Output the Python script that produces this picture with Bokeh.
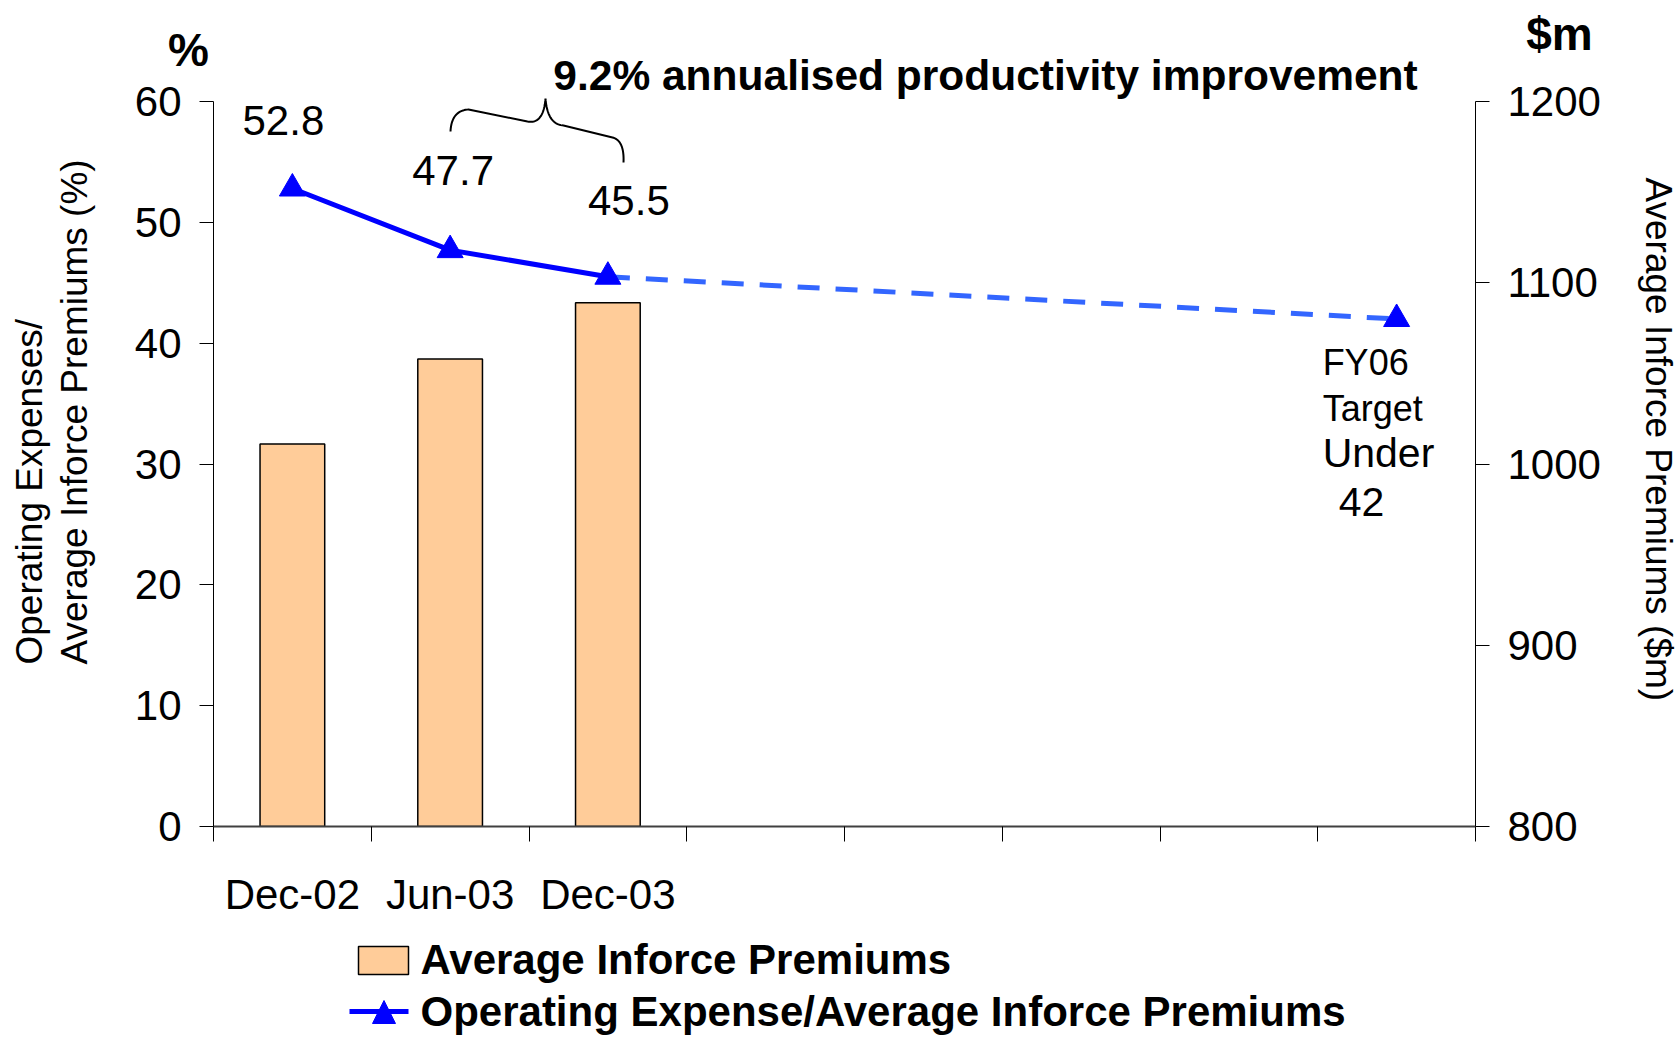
import numpy as np
from bokeh.plotting import figure
from bokeh.models import Range1d, LinearAxis, FixedTicker, Label, ColumnDataSource
from bokeh.core.properties import value
from bokeh.embed import file_html
from bokeh.resources import INLINE

# ---------------- data ----------------
periods = ["Dec-02", "Jun-03", "Dec-03"]
slot_count = 8            # x axis divisions (last one holds the FY06 target)
target_slot = 7
premiums = [1011, 1058, 1089]        # Average Inforce Premiums ($m), right axis
ratio = [52.8, 47.7, 45.5]           # Operating Expense / Avg Inforce Premiums (%)
ratio_labels = ["52.8", "47.7", "45.5"]
target_ratio = 42.0
target_lines = ["FY06", "Target", "Under", "42"]
left_ticks = [0, 10, 20, 30, 40, 50, 60]
right_ticks = [800, 900, 1000, 1100, 1200]
headline = "9.2% annualised productivity improvement"
left_title = ["Operating Expenses/", "Average Inforce Premiums (%)"]
right_title = "Average Inforce Premiums ($m)"
bar_name = "Average Inforce Premiums"
line_name = "Operating Expense/Average Inforce Premiums"

FONT = "Liberation Sans"
BAR_FILL = "#FFCC99"
LINE_BLUE = "#0000FF"
DASH_BLUE = "#3366FF"

# frame geometry (page px) used for annotation placement
W, H = 1680, 1036
FL, FR, FT, FB = 213.0, 1475.0, 101.0, 826.0
XPX = (FR - FL) / slot_count
YPX = (FB - FT) / 60.0


def gx(px):
    return (px - FL) / XPX


def gy(py):
    return (FB - py) / YPX


p = figure(width=W, height=H, output_backend="svg", toolbar_location=None,
           x_range=Range1d(0, slot_count), y_range=Range1d(0, 60),
           min_border_left=int(FL), min_border_right=int(W - FR),
           min_border_top=int(FT), min_border_bottom=int(H - FB))
p.extra_y_ranges = {"prem": Range1d(800, 1200)}
p.xgrid.visible = False
p.ygrid.visible = False
p.outline_line_color = None
p.background_fill_color = "white"
p.border_fill_color = "white"

xs = [i + 0.5 for i in range(len(periods))]
target_x = target_slot + 0.5

# ---- x axis: labels at centres, ticks at slot boundaries
xax = p.xaxis[0]
xax.ticker = FixedTicker(ticks=xs, minor_ticks=list(range(slot_count + 1)))
xax.major_label_overrides = {x: lab for x, lab in zip(xs, periods)}
xax.major_tick_out = 0
xax.major_tick_in = 0
xax.minor_tick_out = 15
xax.minor_tick_in = 0
xax.minor_tick_line_color = "black"
xax.axis_line_color = "#404040"
xax.axis_line_width = 2
xax.major_label_standoff = 29
xax.major_label_text_font = FONT
xax.major_label_text_font_size = "42px"
xax.major_label_text_color = "black"

# ---- left axis
yl = p.yaxis[0]
yl.ticker = FixedTicker(ticks=left_ticks)
yl.major_tick_out = 14
yl.major_tick_in = 0
yl.minor_tick_out = 0
yl.minor_tick_in = 0
yl.axis_line_color = "black"
yl.major_tick_line_color = "black"
yl.major_label_standoff = 18
yl.major_label_text_font = FONT
yl.major_label_text_font_size = "42px"
yl.major_label_text_color = "black"

# ---- right axis
yr = LinearAxis(y_range_name="prem", ticker=FixedTicker(ticks=right_ticks))
yr.major_tick_out = 14
yr.major_tick_in = 0
yr.minor_tick_out = 0
yr.minor_tick_in = 0
yr.axis_line_color = "black"
yr.major_tick_line_color = "black"
yr.major_label_standoff = 18
yr.major_label_text_font = FONT
yr.major_label_text_font_size = "42px"
yr.major_label_text_color = "black"
p.add_layout(yr, "right")

# ---- bars
src = ColumnDataSource(dict(x=xs, top=premiums))
bars = p.vbar(x="x", top="top", bottom=800, width=0.41, y_range_name="prem",
              source=src, fill_color=BAR_FILL, line_color="black", line_width=1.5)

# ---- lines
dashed = p.line([xs[-1], target_x], [ratio[-1], target_ratio], line_color=DASH_BLUE,
                line_width=5, line_dash="22 16")
solid = p.line(xs, ratio, line_color=LINE_BLUE, line_width=5)
markers = p.scatter(xs + [target_x], ratio + [target_ratio], marker="triangle", size=26,
                    fill_color=LINE_BLUE, line_color=LINE_BLUE)

# ---- value labels
lab_dx = [-9, 3, 21]
lab_dy = [68, 80, 76]
for x, yv, t, dx, dy in zip(xs, ratio, ratio_labels, lab_dx, lab_dy):
    p.add_layout(Label(x=x, y=yv, text=t, x_offset=dx, y_offset=dy, text_align="center",
                       text_baseline="middle", text_font=FONT, text_font_size="42px",
                       text_color="black"))

tgt_dx = [-74, -74, -74, -58]
tgt_dy = [-43, -89, -134, -183]
tgt_size = ["36px", "36px", "41px", "41px"]
for t, dx, dy, fs in zip(target_lines, tgt_dx, tgt_dy, tgt_size):
    p.add_layout(Label(x=target_x, y=target_ratio, text=t, x_offset=dx, y_offset=dy,
                       text_align="left", text_baseline="middle", text_font=FONT,
                       text_font_size=fs, text_color="black"))

# ---- texts outside the frame (overlay level text glyphs, page px -> data)
def outside_text(px, py, txt, size, bold=False, angle=0.0, align="center"):
    p.text(x=[gx(px)], y=[gy(py)], text=[txt], angle=angle,
           text_font=value(FONT), text_font_size=value(size),
           text_font_style="bold" if bold else "normal",
           text_align=align, text_baseline="middle", text_color="black",
           level="overlay")

outside_text(985, 75, headline, "42.5px", bold=True)
outside_text(188, 49, "%", "46px", bold=True)
outside_text(1559, 33, "$m", "46px", bold=True)
outside_text(29, 664, left_title[0], "37px", angle=np.pi / 2, align="left")
outside_text(74, 664, left_title[1], "37px", angle=np.pi / 2, align="left")
outside_text(1658, 177, right_title, "37px", angle=-np.pi / 2, align="left")

# ---- curly brace (page px -> data)
def qbez(p0, c, p1, n=24):
    t = np.linspace(0, 1, n)[:, None]
    a, b, d = np.array(p0), np.array(c), np.array(p1)
    return ((1 - t) ** 2) * a + 2 * (1 - t) * t * b + (t ** 2) * d

pts = np.vstack([
    qbez((450, 131), (451, 110), (468, 109)),
    qbez((527, 121), (543, 124), (545, 98)),
    qbez((545, 98), (547, 124), (563, 125)),
    qbez((612, 137), (624, 140), (623, 162)),
])
p.line([gx(v) for v in pts[:, 0]], [gy(v) for v in pts[:, 1]], line_color="black",
       line_width=2, level="overlay")

# ---- legend (drawn below the axis)
p.rect(x=[gx(383)], y=[gy(960)], width=50, height=28, width_units="screen",
       height_units="screen", fill_color=BAR_FILL, line_color="black", line_width=1.5,
       level="overlay")
p.line([gx(349), gx(408)], [gy(1011), gy(1011)], line_color=LINE_BLUE, line_width=5,
       level="overlay")
p.patch([gx(372), gx(395), gx(383.5)], [gy(1023), gy(1023), gy(1000)],
        fill_color=LINE_BLUE, line_color=LINE_BLUE, level="overlay")
outside_text(420, 959, bar_name, "42px", bold=True, align="left")
outside_text(420, 1011, line_name, "42px", bold=True, align="left")

open("out.html", "w").write(file_html(p, INLINE))
